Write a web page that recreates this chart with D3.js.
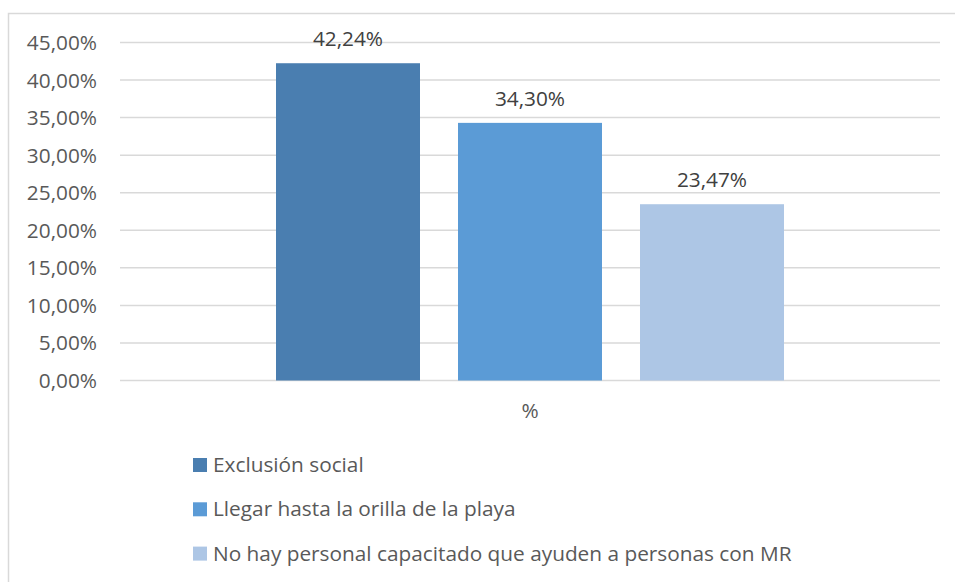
<!DOCTYPE html>
<html>
<head>
<meta charset="utf-8">
<script src="https://cdn.jsdelivr.net/npm/d3@7"></script>
<style>
  body { margin:0; background:#fff; }
  svg text { font-family:"Open Sans", "Noto Sans", sans-serif; }
</style>
</head>
<body>
<svg id="chart" width="955" height="582"></svg>
<script>
// chart data
var categories = ["%"];
var seriesNames = ["Exclusión social",
                   "Llegar hasta la orilla de la playa",
                   "No hay personal capacitado que ayuden a personas con MR"];
var seriesValues = [42.24, 34.30, 23.47];
var seriesColors = ["#4a7eb0", "#5b9bd6", "#adc6e5"];
var yTicks = [0, 5, 10, 15, 20, 25, 30, 35, 40, 45];

var fontSize = 20.8;

var svg = d3.select("#chart");

//frame of the chart area
svg.append("rect")
    .attr("x", 8.5).attr("y", 13.5)
    .attr("width", 1000).attr("height", 700)
    .attr("fill", "none")
    .attr("stroke", "#d9d9d9")
    .attr("stroke-width", 1.5);

var plot = {left:120, right:940, top:42.5, bottom:380.5};

var yScale = d3.scaleLinear()
    .domain([0, 45])
    .range([plot.bottom, plot.top]);

var xScale = d3.scaleBand()
    .domain(categories)
    .range([plot.left, plot.right]);

// bars inside the one category, bar 144 wide with 38 between
var innerScale = d3.scaleBand()
    .domain(seriesNames)
    .range([xScale("%") + xScale.bandwidth()/2 - 254, xScale("%") + xScale.bandwidth()/2 + 254])
    .paddingInner(38/182);

var fmt = function(v) { return v.toFixed(2).replace(".", ",") + "%"; };

//gridlines
svg.append("g")
    .selectAll("line")
    .data(yTicks)
    .enter()
    .append("line")
    .attr("x1", plot.left)
    .attr("x2", plot.right)
    .attr("y1", function(d) { return yScale(d); })
    .attr("y2", function(d) { return yScale(d); })
    .attr("stroke", "#d9d9d9")
    .attr("stroke-width", 1.5);

//y tick labels
svg.append("g")
    .selectAll("text")
    .data(yTicks)
    .enter()
    .append("text")
    .attr("x", 97)
    .attr("y", function(d) { return yScale(d) + 7.5; })
    .attr("text-anchor", "end")
    .attr("font-size", fontSize)
    .attr("fill", "#595959")
    .text(function(d) { return fmt(d); });

var data = seriesNames.map(function(name, i) {
    return {name:name, value:seriesValues[i], color:seriesColors[i]};
});

svg.append("g")
    .selectAll("rect")
    .data(data)
    .enter()
    .append("rect")
    .attr("x", function(d) { return innerScale(d.name); })
    .attr("width", innerScale.bandwidth())
    .attr("y", function(d) { return yScale(d.value); })
    .attr("height", function(d) { return plot.bottom - yScale(d.value); })
    .attr("fill", function(d) { return d.color; });

//data labels
svg.append("g")
    .selectAll("text")
    .data(data)
    .enter()
    .append("text")
    .attr("x", function(d) { return innerScale(d.name) + innerScale.bandwidth()/2; })
    .attr("y", function(d) { return yScale(d.value) - 17; })
    .attr("text-anchor", "middle")
    .attr("font-size", fontSize)
    .attr("fill", "#404040")
    .text(function(d) { return fmt(d.value); });

//category label
svg.append("text")
    .attr("x", xScale("%") + xScale.bandwidth()/2)
    .attr("y", 418)
    .attr("text-anchor", "middle")
    .attr("font-size", fontSize)
    .attr("fill", "#595959")
    .text(categories[0]);

//legend
var legend = svg.append("g")
    .selectAll("g")
    .data(data)
    .enter()
    .append("g")
    .attr("transform", function(d, i) { return "translate(193," + (472 + i*44.3) + ")"; });

legend.append("rect")
    .attr("x", 0).attr("y", -14)
    .attr("width", 14).attr("height", 14)
    .attr("fill", function(d) { return d.color; });

legend.append("text")
    .attr("x", 20)
    .attr("y", 0)
    .attr("font-size", fontSize)
    .attr("fill", "#595959")
    .text(function(d) { return d.name; });
</script>
</body>
</html>
